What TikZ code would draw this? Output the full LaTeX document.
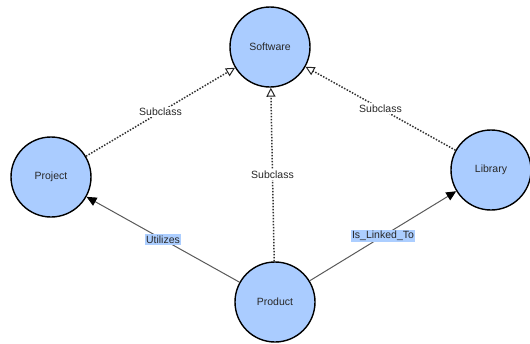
\documentclass[tikz,border=0pt]{standalone}
\usepackage{fontspec}
\setmainfont{Liberation Sans}
\usetikzlibrary{arrows.meta}
\definecolor{nodeblue}{RGB}{170,204,255}
\definecolor{labelblue}{RGB}{172,206,255}
\definecolor{txtgray}{RGB}{40,40,40}
\begin{document}
\begin{tikzpicture}[x=1pt,y=-1pt,
  classnode/.style={circle,draw=black,line width=1.4pt,fill=nodeblue,minimum size=80pt,inner sep=0pt,font=\fontsize{10.5}{12}\selectfont,text=txtgray},
  subedge/.style={draw=black!80,line width=1.5pt,dash pattern=on 1.5pt off 1.5pt,-{Triangle[open,length=9pt,width=9pt,line width=1pt,black!85]}},
  reledge/.style={draw=black!65,line width=1pt,-{Triangle[length=10pt,width=9pt,black]}},
  sublabel/.style={fill=white,inner sep=1.5pt,font=\fontsize{10.5}{12}\selectfont,text=txtgray},
  rellabel/.style={fill=labelblue,inner sep=1.5pt,font=\fontsize{10.5}{12}\selectfont,text=txtgray}]
\useasboundingbox (0,0) rectangle (530,343);
\node[classnode] (software) at (270,47) {Software};
\node[classnode] (project) at (51,177) {Project};
\node[classnode] (library) at (491,170) {Library};
\node[classnode] (product) at (275,302) {Product};
\draw[subedge] (project) -- node[sublabel] (l1) {Subclass} (software);
\draw[subedge] (product) -- node[sublabel] (l2) {Subclass} (software);
\draw[subedge] (library) -- node[sublabel] (l3) {Subclass} (software);
\draw[reledge] (product) -- node[rellabel] (l4) {Utilizes} (project);
\draw[reledge] (product) -- node[rellabel] (l5) {Is\_Linked\_To} (library);
\end{tikzpicture}
\end{document}
